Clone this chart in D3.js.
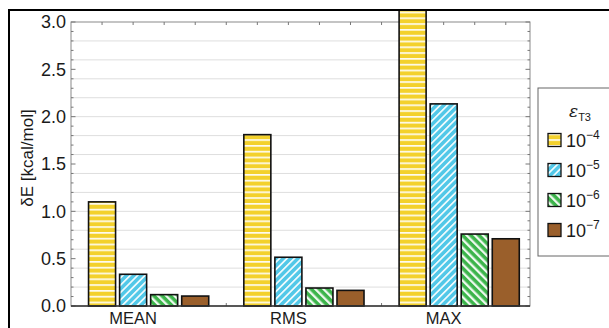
<!DOCTYPE html>
<html><head><meta charset="utf-8">
<script src="https://cdn.jsdelivr.net/npm/d3@7"></script>
<style>html,body{margin:0;padding:0;background:#fff;}svg{display:block;}</style>
</head><body>
<svg id="c" width="609" height="328"></svg>
<script>
const categories = ["MEAN", "RMS", "MAX"];
const seriesNames = ["-4", "-5", "-6", "-7"];
const meanValues = [1.10, 0.335, 0.12, 0.105];
const rmsValues = [1.81, 0.515, 0.19, 0.165];
const maxValues = [3.6, 2.135, 0.76, 0.71];
const yTicks = [0.0, 0.5, 1.0, 1.5, 2.0, 2.5, 3.0];
const values = [meanValues, rmsValues, maxValues];

const svg = d3.select("#c");
const W = 609, H = 328;
const plot = {l: 71, r: 530, t: 22, b: 306};
const colors = ["#f3d12c", "#52c8e8", "#3cb44a", "#9a5f2b"];
const font = "'Liberation Sans', Arial, sans-serif";

const x = d3.scaleLinear().domain([0, 14.78]).range([plot.l, plot.r]);
const y = d3.scaleLinear().domain([0, 3]).range([plot.b, plot.t]);
const slotW = x(1) - x(0);
const barW = slotW * 0.87;

const defs = svg.append("defs");
function stripePattern(id, color, angle, period, white) {
  const p = defs.append("pattern").attr("id", id).attr("patternUnits", "userSpaceOnUse")
    .attr("width", period).attr("height", period).attr("patternTransform", `rotate(${angle})`);
  p.append("rect").attr("width", period).attr("height", period).attr("fill", color);
  p.append("rect").attr("x", 0).attr("y", 0).attr("width", white).attr("height", period).attr("fill", "#fff").attr("opacity", 0.92);
}
stripePattern("p0", colors[0], 90, 5.8, 1.7);
stripePattern("p1", colors[1], 45, 5.2, 1.7);
stripePattern("p2", colors[2], -45, 5.8, 2.3);
const fills = ["url(#p0)", "url(#p1)", "url(#p2)", colors[3]];

defs.append("clipPath").attr("id", "clip").append("rect")
  .attr("x", 10).attr("y", 11).attr("width", W).attr("height", H);

const gridVals = d3.range(1, 15).map(i => i * 0.2);
svg.append("g").selectAll("line").data(gridVals).join("line")
  .attr("x1", plot.l).attr("x2", plot.r)
  .attr("y1", d => y(d)).attr("y2", d => y(d))
  .attr("stroke", "#dedede").attr("stroke-width", 1);

svg.append("rect").attr("x", plot.l).attr("y", plot.t)
  .attr("width", plot.r - plot.l).attr("height", plot.b - plot.t)
  .attr("fill", "none").attr("stroke", "#8a8a8a").attr("stroke-width", 1);

const minor = d3.range(0, 31).map(i => i / 10);
const ticksG = svg.append("g").attr("stroke", "#777").attr("stroke-width", 1);
minor.forEach(v => {
  const major = Math.abs(v * 2 - Math.round(v * 2)) < 1e-6;
  const len = major ? 4.5 : 2.5;
  ticksG.append("line").attr("x1", plot.l).attr("x2", plot.l + len).attr("y1", y(v)).attr("y2", y(v));
  ticksG.append("line").attr("x1", plot.r).attr("x2", plot.r - len).attr("y1", y(v)).attr("y2", y(v));
});
d3.range(1, 15).forEach(i => {
  ticksG.append("line").attr("x1", x(i)).attr("x2", x(i)).attr("y1", plot.t).attr("y2", plot.t + 3);
  ticksG.append("line").attr("x1", x(i)).attr("x2", x(i)).attr("y1", plot.b).attr("y2", plot.b - 3);
});

const bars = [];
values.forEach((arr, gi) => arr.forEach((v, si) => bars.push({gi, si, v})));
svg.append("g").attr("clip-path", "url(#clip)").selectAll("rect").data(bars).join("rect")
  .attr("x", d => x(d.gi * 5 + d.si + 1) - barW / 2)
  .attr("width", barW)
  .attr("y", d => y(d.v))
  .attr("height", d => y(0) - y(d.v))
  .attr("fill", d => fills[d.si])
  .attr("stroke", "#111").attr("stroke-width", 1.6);

svg.append("line").attr("x1", plot.l).attr("x2", plot.r).attr("y1", plot.b).attr("y2", plot.b)
  .attr("stroke", "#333").attr("stroke-width", 1.4);

svg.append("g").selectAll("text").data(yTicks).join("text")
  .attr("x", 66).attr("y", d => y(d)).attr("dy", "0.36em")
  .attr("text-anchor", "end").attr("font-family", font).attr("font-size", 18)
  .attr("fill", "#1a1a1a").text(d => d.toFixed(1));

svg.append("g").selectAll("text").data(categories).join("text")
  .attr("x", (d, i) => x(i * 5 + 2)).attr("y", 324)
  .attr("text-anchor", "middle").attr("font-family", font).attr("font-size", 16.5)
  .attr("fill", "#1a1a1a").text(d => d);

svg.append("text").attr("transform", "translate(33,158) rotate(-90)")
  .attr("text-anchor", "middle").attr("font-family", font).attr("font-size", 17)
  .attr("fill", "#1a1a1a").text("δE [kcal/mol]");

const lg = svg.append("g");
lg.append("rect").attr("x", 538).attr("y", 88).attr("width", 100).attr("height", 168)
  .attr("fill", "#fff").attr("stroke", "#666").attr("stroke-width", 1);
const tt = lg.append("text").attr("x", 569).attr("y", 117).attr("fill", "#1a1a1a")
  .attr("font-family", font);
tt.append("tspan").attr("font-size", 17).attr("font-style", "italic")
  .attr("font-family", "'DejaVu Serif', 'Liberation Serif', serif").text("ε");
tt.append("tspan").attr("font-size", 11).attr("dy", 4).text("T3");
const rowY = d3.scalePoint().domain(seriesNames).range([140, 230]);
seriesNames.forEach((s, i) => {
  const cy = rowY(s);
  lg.append("rect").attr("x", 548).attr("y", cy - 6.5).attr("width", 13).attr("height", 13)
    .attr("fill", fills[i]).attr("stroke", "#111").attr("stroke-width", 1.3);
  const t = lg.append("text").attr("x", 566).attr("y", cy + 6.5).attr("fill", "#1a1a1a")
    .attr("font-family", font).attr("font-size", 18);
  t.append("tspan").text("10");
  t.append("tspan").attr("font-size", 12).attr("dy", -8).text(s.replace("-", "−"));
});

svg.append("line").attr("x1", 8).attr("x2", W).attr("y1", 10).attr("y2", 10).attr("stroke", "#000").attr("stroke-width", 2);
svg.append("line").attr("x1", 9).attr("x2", 9).attr("y1", 10).attr("y2", H).attr("stroke", "#000").attr("stroke-width", 2);
</script>
</body></html>
